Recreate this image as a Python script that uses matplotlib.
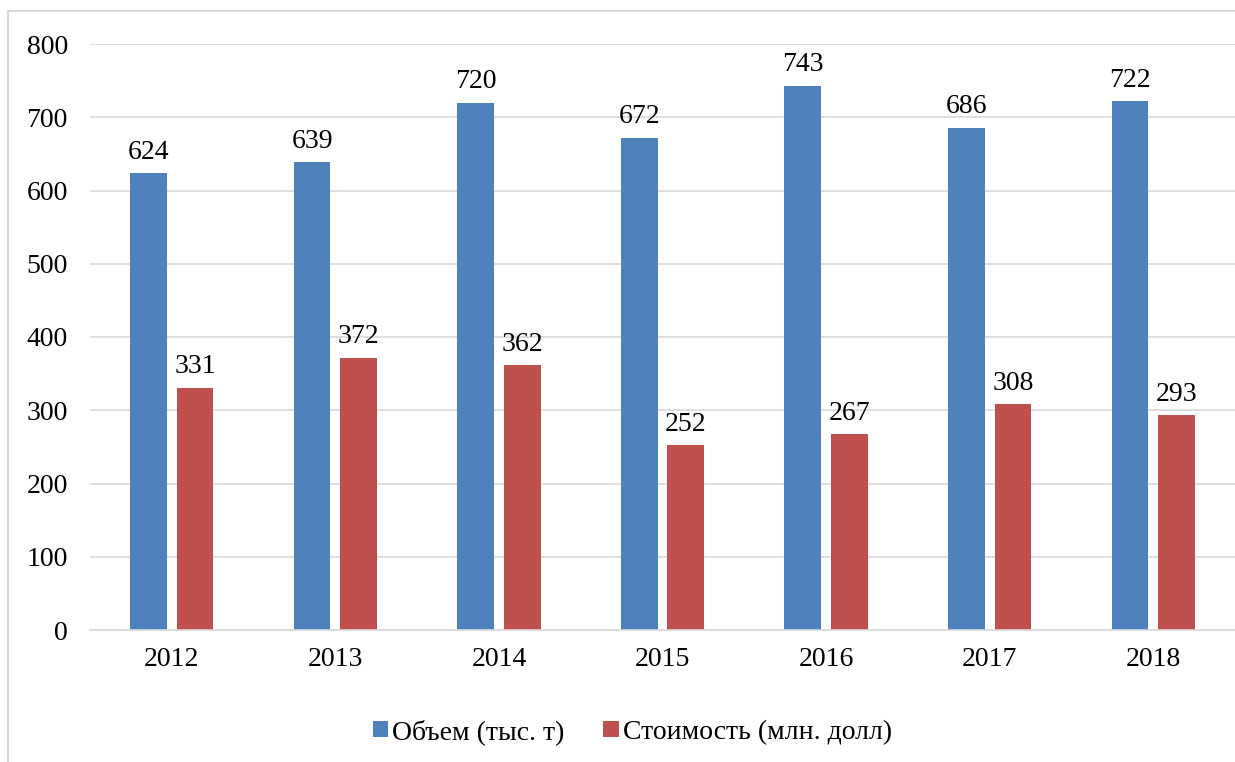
import numpy as np
import matplotlib
matplotlib.use('Agg')
import matplotlib.pyplot as plt
from matplotlib.lines import Line2D

plt.rcParams['font.family'] = ['Liberation Serif', 'DejaVu Serif']

# Data
years = ['2012', '2013', '2014', '2015', '2016', '2017', '2018']
volume = [624, 639, 720, 672, 743, 686, 722]
cost = [331, 372, 362, 252, 267, 308, 293]

blue = '#4f81bd'
red = '#c0504d'
fs = 20

fig = plt.figure(figsize=(12.35, 7.62), dpi=100)
ax = fig.add_axes([90 / 1235, 132 / 762, 1 - 90 / 1235, (630 - 44) / 762])

x = np.arange(len(years))
w = 0.2245
off = 0.142
b1 = ax.bar(x - off, volume, width=w, color=blue, label='Объем (тыс. т)')
b2 = ax.bar(x + off, cost, width=w, color=red, label='Стоимость (млн. долл)')

for bars in (b1, b2):
    for rect in bars:
        ax.annotate(str(int(rect.get_height())),
                    (rect.get_x() + rect.get_width() / 2, rect.get_height()),
                    xytext=(0, 6), textcoords='offset points',
                    ha='center', va='bottom', fontsize=fs)

ax.set_xlim(-0.5, len(years) - 0.5)
ax.set_ylim(0, 800)
ax.set_yticks(range(0, 801, 100))
ax.set_xticks(x)
ax.set_xticklabels(years)
ax.tick_params(axis='both', length=0, labelsize=fs)
ax.tick_params(axis='y', pad=16)
ax.tick_params(axis='x', pad=12)
ax.grid(axis='y', color='#d9d9d9', linewidth=1.2)
ax.set_axisbelow(True)
for s in ['top', 'right', 'left']:
    ax.spines[s].set_visible(False)
ax.spines['bottom'].set_color('#d9d9d9')
ax.spines['bottom'].set_linewidth(1.2)

fig.legend(handles=[b1, b2], loc='center', bbox_to_anchor=(0.512, 1 - 732 / 762),
           ncol=2, frameon=False, fontsize=fs, handlelength=0.55, handleheight=0.55,
           handletextpad=0.15, columnspacing=1.4)

# light outer frame (left and top edges visible)
fig.add_artist(Line2D([8 / 1235, 8 / 1235], [0, 1 - 11 / 762], color='#d9d9d9', lw=1.5,
                      transform=fig.transFigure))
fig.add_artist(Line2D([8 / 1235, 1], [1 - 11 / 762, 1 - 11 / 762], color='#d9d9d9', lw=1.5,
                      transform=fig.transFigure))

fig.savefig('out.png', dpi=100)
